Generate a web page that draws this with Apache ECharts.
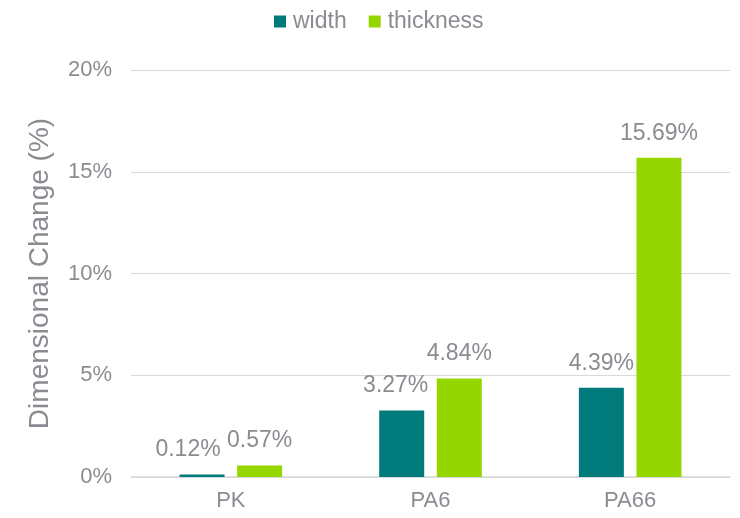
<!DOCTYPE html>
<html>
<head>
<meta charset="utf-8">
<script src="https://cdn.jsdelivr.net/npm/echarts@6/dist/echarts.min.js"></script>
<style>
html,body{margin:0;padding:0;background:#fff;}
#chart{width:740px;height:518px;}
</style>
</head>
<body>
<div id="chart"></div>
<script>
// Materials and measured dimensional change (%)
const categories = ['PK', 'PA6', 'PA66'];
const widthValues = [0.12, 3.27, 4.39];
const thicknessValues = [0.57, 4.84, 15.69];
const seriesNames = ['width', 'thickness'];
// Horizontal nudges keep neighbouring value labels apart
const widthLabelShift = [-14, -6, 0];

const textColor = '#898D91';
const fontFamily = '"Liberation Sans", Arial, sans-serif';

const chart = echarts.init(document.getElementById('chart'), null, {renderer: 'canvas'});

function labelled(values, shifts) {
  return values.map((v, i) => ({
    value: v,
    label: {offset: [shifts ? shifts[i] : 0, 0]}
  }));
}

const valueLabel = {
  show: true,
  position: 'top',
  distance: 13,
  color: textColor,
  fontSize: 23,
  fontFamily: fontFamily,
  formatter: p => p.value.toFixed(2) + '%'
};

chart.setOption({
  animation: false,
  textStyle: {fontFamily: fontFamily},
  legend: {
    top: 5,
    left: 269,
    itemWidth: 12,
    itemHeight: 12,
    itemGap: 22,
    icon: 'rect',
    textStyle: {color: textColor, fontSize: 23, fontFamily: fontFamily, padding: [0, 0, 0, 2]},
    data: seriesNames
  },
  grid: {left: 131, right: 10, top: 70, bottom: 41, containLabel: false},
  xAxis: {
    type: 'category',
    data: categories,
    axisLine: {lineStyle: {color: '#D9D9D9', width: 1.5}},
    axisTick: {show: false},
    axisLabel: {color: textColor, fontSize: 22, margin: 13, fontFamily: fontFamily}
  },
  yAxis: {
    type: 'value',
    min: 0,
    max: 20,
    interval: 5,
    name: 'Dimensional Change (%)',
    nameLocation: 'middle',
    nameGap: 77,
    nameTextStyle: {color: textColor, fontSize: 28, fontFamily: fontFamily},
    axisLine: {show: false},
    axisTick: {show: false},
    axisLabel: {color: textColor, fontSize: 22, margin: 19, formatter: v => v + '%', fontFamily: fontFamily},
    splitLine: {lineStyle: {color: '#D9D9D9', width: 1}}
  },
  series: [
    {
      name: seriesNames[0],
      type: 'bar',
      data: labelled(widthValues, widthLabelShift),
      barWidth: 45,
      barGap: '28%',
      itemStyle: {color: '#007A7A'},
      label: valueLabel
    },
    {
      name: seriesNames[1],
      type: 'bar',
      data: labelled(thicknessValues),
      barWidth: 45,
      barGap: '28%',
      itemStyle: {color: '#96D600'},
      label: valueLabel
    }
  ]
});
</script>
</body>
</html>
